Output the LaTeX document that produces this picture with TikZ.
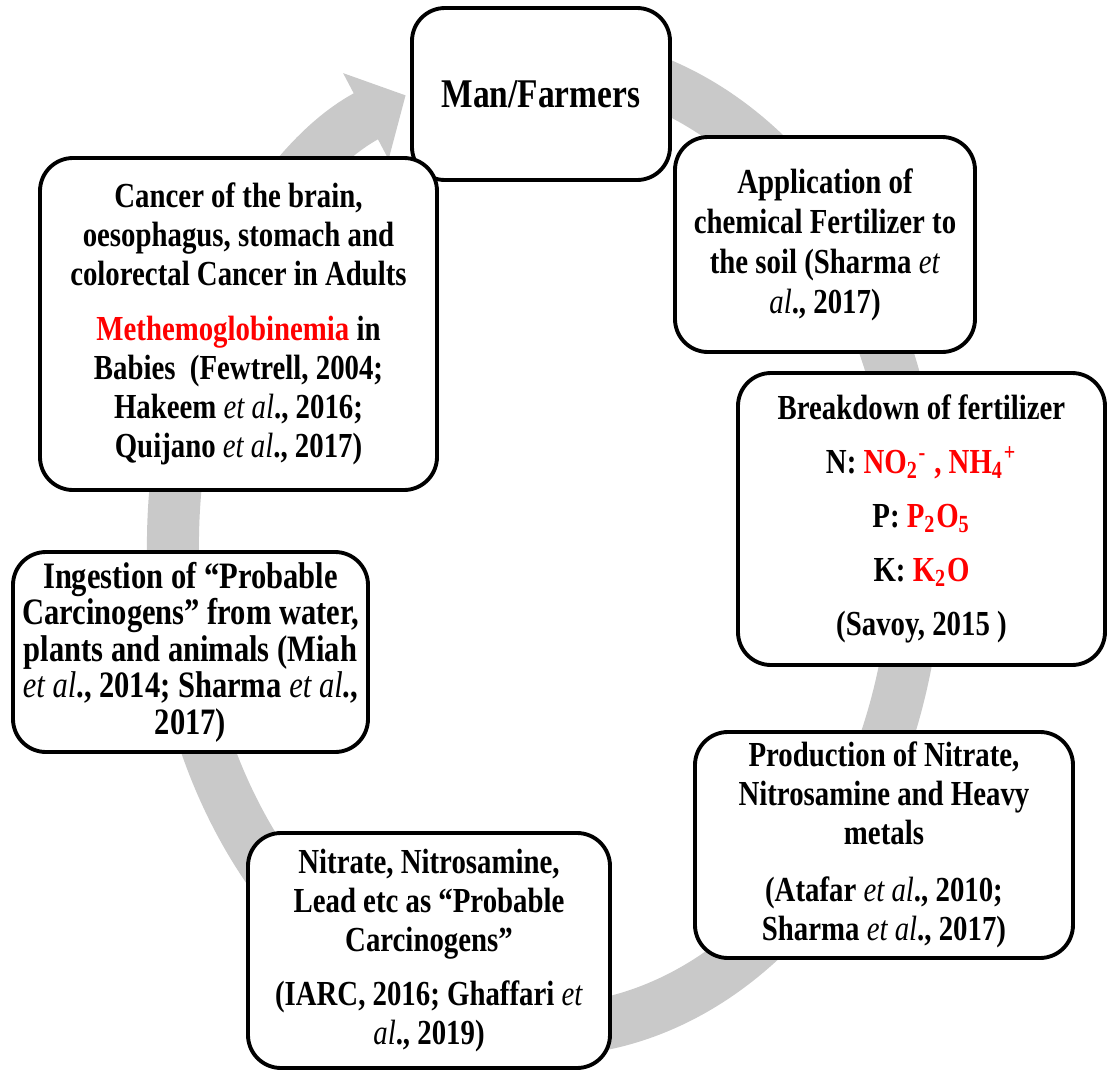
\documentclass[tikz,border=0pt]{standalone}
\usepackage{fontspec}
\setmainfont{Liberation Serif}[FakeStretch=0.82]
\usepackage{tikz}
\usetikzlibrary{arrows.meta}
\definecolor{ringgray}{RGB}{201,201,201}
\definecolor{alertred}{RGB}{255,0,0}
\newcommand{\lat}[1]{\textit{\mdseries #1}}

\begin{document}
\begin{tikzpicture}[
    font=\fontsize{10}{11.1}\selectfont\bfseries,
    stage/.style={draw, fill=white, rounded corners=0.33cm, line width=1.1pt, align=center, inner sep=2pt},
    ring/.style={draw=ringgray, line width=0.52cm, -{Triangle[length=0.45cm, width=0.95cm]}}
]
    \useasboundingbox (0,0) rectangle (11.07,-10.70);

    % Cycle arrow behind the boxes
    \coordinate (C) at (5.45,-5.45);
    \draw[ring] (C) ++(80:3.72 and 4.85) arc[start angle=80, end angle=-248, x radius=3.72, y radius=4.85];

    % Stages of the cycle
    \node[stage, minimum width=2.58cm, minimum height=1.72cm, font=\fontsize{11.6}{13}\selectfont\bfseries] (man) at (5.41,-0.94) {Man/Farmers};

    \node[stage, minimum width=3.00cm, minimum height=2.15cm, font=\fontsize{10}{11.4}\selectfont\bfseries] (apply) at (8.25,-2.445)
        {Application of\\ chemical Fertilizer to\\ the soil (Sharma \lat{et}\\ \lat{al}., 2017)};

    \node[stage, minimum width=3.67cm, minimum height=2.92cm] (breakdown) at (9.215,-5.19)
        {Breakdown of fertilizer\\[4.3pt]
         N: \textcolor{alertred}{NO\textsubscript{2}\textsuperscript{-} , NH\textsubscript{4}\textsuperscript{+}}\\[4.3pt]
         P: \textcolor{alertred}{P\textsubscript{2}O\textsubscript{5}}\\[4.3pt]
         K: \textcolor{alertred}{K\textsubscript{2}O}\\[4.3pt]
         (Savoy, 2015 )};

    \node[stage, minimum width=3.78cm, minimum height=2.26cm] (production) at (8.84,-8.45)
        {Production of Nitrate,\\ Nitrosamine and Heavy\\ metals\\[5pt]
         (Atafar \lat{et al}., 2010;\\ Sharma \lat{et al}., 2017)};

    \node[stage, minimum width=3.62cm, minimum height=2.35cm] (nitrate) at (4.29,-9.505)
        {Nitrate, Nitrosamine,\\ Lead etc as “Probable\\ Carcinogens”\\[4pt]
         (IARC, 2016; Ghaffari \lat{et}\\ \lat{al}., 2019)};

    \node[stage, minimum width=3.55cm, minimum height=2.00cm, font=\fontsize{10.6}{10.4}\selectfont\bfseries] (ingestion) at (1.905,-6.52)
        {Ingestion of “Probable\\ Carcinogens” from water,\\ plants and animals (Miah\\ \lat{et al}., 2014; Sharma \lat{et al}.,\\ 2017)};

    \node[stage, minimum width=3.97cm, minimum height=3.32cm] (cancer) at (2.385,-3.24)
        {Cancer of the brain,\\ oesophagus, stomach and\\ colorectal Cancer in Adults\\[4.5pt]
         \textcolor{alertred}{Methemoglobinemia} in\\ Babies\ \ (Fewtrell, 2004;\\ Hakeem \lat{et al}., 2016;\\ Quijano \lat{et al}., 2017)};

\end{tikzpicture}
\end{document}
